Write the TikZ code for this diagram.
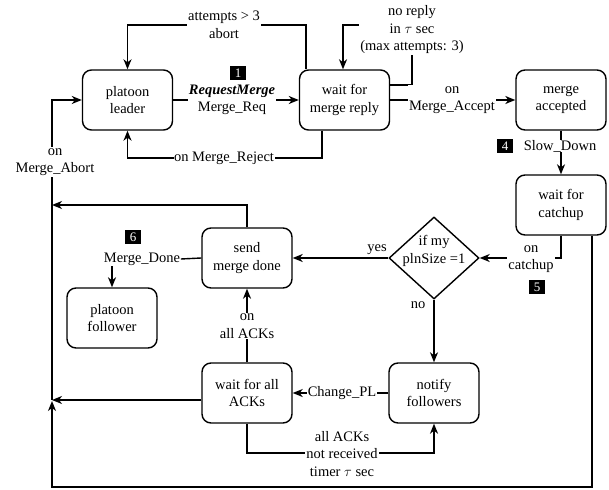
\documentclass[tikz,border=0pt]{standalone}
\usepackage{fontspec}
\setmainfont{Liberation Serif}
\usetikzlibrary{shapes.geometric,arrows.meta}
\begin{document}
\begin{tikzpicture}[x=1pt,y=-1pt,
  txt/.style={font=\fontsize{14.5}{17.5}\selectfont},
  state/.style={txt,draw,line width=1.4pt,rounded corners=9pt,minimum width=90pt,minimum height=60pt,align=center,inner sep=0pt},
  lbl/.style={txt,fill=white,align=center,inner sep=1pt},
  num/.style={fill=black,text=white,font=\fontsize{13}{13}\selectfont,inner sep=1pt,minimum width=16pt,minimum height=14pt},
  conn/.style={line width=1.4pt},
  arr/.style={conn,-{Stealth[length=10pt,width=8pt,inset=3pt]}},
]
\useasboundingbox (0,0) rectangle (609,489);

% states
\node[state] (leader) at (127.5,100) {platoon\\leader};
\node[state] (reply) at (344.5,100) {wait for\\merge reply};
\node[state] (acc) at (561,100) {merge\\accepted};
\node[state] (catch) at (561,205) {wait for\\catchup};
\node[draw,diamond,line width=1.4pt,minimum width=90pt,minimum height=82pt,inner sep=0pt] (dec) at (434,258) {};
\node[txt,align=center,inner sep=0pt] (dectext) at (434,251) {if my\\plnSize =1};
\node[state] (done) at (247,258) {send\\merge done};
\node[state] (foll) at (112,318) {platoon\\follower};
\node[state] (acks) at (247,393) {wait for all\\ACKs};
\node[state] (notify) at (434,393) {notify\\followers};

% coordinates
\coordinate (j1) at (52,205);
\coordinate (j2) at (52,400);
\coordinate (j3) at (52,487);

% connectors
\draw[arr] (leader) -- (reply);
\draw[arr] ([xshift=-38.5pt]reply.north) |- (leader.north |- 0,25) -- (leader.north);
\draw[arr] ([yshift=15pt]reply.east) -| (412,25) -| ([xshift=-1.5pt]reply.north);
\draw[arr] (reply) -- (acc);
\draw[arr] ([xshift=-22.5pt]reply.south) |- (leader.south |- 0,158) -- (leader.south);
\draw[arr] (acc) -- (catch);
\draw[arr] (catch.south) |- (dec.east);
\draw[arr] (dec) -- (done);
\draw[arr] (dec.south) -- (notify.north);
\draw[arr] (done.north) |- (j1);
\draw[arr] (acks) -- (done);
\draw[arr] (notify) -- (acks);
\draw[arr] (acks.west |- j2) -- (j2);
\draw[arr] (acks.south) |- (notify.south |- 0,453) -- (notify.south);
\draw[arr] ([xshift=31pt]catch.south) |- (j3) -- ([yshift=-1pt]j2);
\draw[arr] (j2) |- (leader.west);

% labels
\node[lbl] (l1) at (232,100) {\textbf{\textit{RequestMerge}}\\Merge\_Req};
\node[num] (n1) at (238,73) {1};
\node[lbl] (l2) at (224,25) {attempts > 3\\abort};
\node[lbl] (l3) at (412,30) {no reply\\in $\tau$ sec\\(max attempts: 3)};
\node[lbl] (l4) at (452,100) {on\\Merge\_Accept};
\node[lbl,inner sep=0.5pt] (l5) at (224,158) {on Merge\_Reject};
\node[lbl,inner sep=0.5pt] (l6) at (560,146) {Slow\_Down};
\node[num] (n4) at (505,146) {4};
\node[lbl] (l7) at (531,259) {on\\catchup};
\node[num] (n5) at (537,287) {5};
\node[txt,inner sep=0pt] (l8) at (377,250) {yes};
\node[txt,inner sep=0pt] (l9) at (418,305) {no};
\node[lbl,inner sep=0.5pt] (md) at (142,259) {Merge\_Done};
\draw[conn] (done.west) -- (md.east);
\draw[arr] (foll.north |- md.south) -- (foll.north);
\node[num] (n6) at (133,237) {6};
\node[lbl] (l10) at (247,326) {on\\all ACKs};
\node[lbl,inner sep=0.5pt] (l11) at (342,393) {Change\_PL};
\node[lbl] (l12) at (342,454) {all ACKs\\not received\\timer $\tau$ sec};
\node[lbl] (l13) at (55,162) {on\\Merge\_Abort};
\end{tikzpicture}
\end{document}
